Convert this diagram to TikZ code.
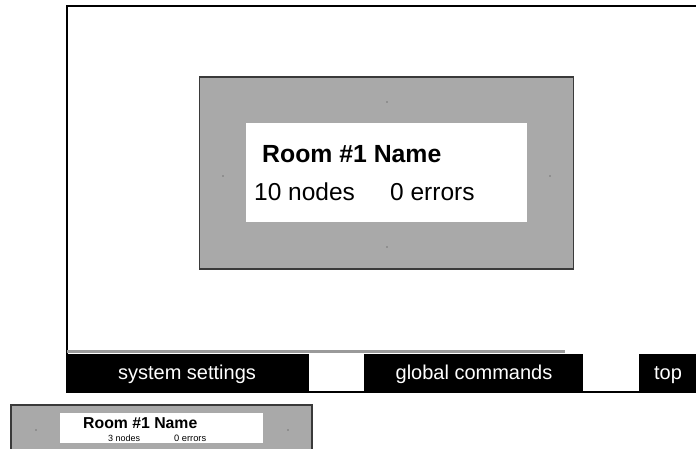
\documentclass[tikz,border=0pt]{standalone}
\usepackage{fontspec}
\setmainfont{Liberation Sans}
\definecolor{panelgray}{HTML}{A9A9A9}
\definecolor{edgegray}{HTML}{3A3A3A}
\definecolor{railgray}{HTML}{9A9A9A}
\begin{document}
\begin{tikzpicture}[x=1pt,y=-1pt,
  panel/.style={fill=panelgray,draw=edgegray,line width=1.6pt},
  card/.style={fill=white,draw=none},
  tab/.style={fill=black,draw=none},
  tablabel/.style={text=white,font=\fontsize{20}{24}\selectfont,anchor=base,inner sep=0pt},
  speck/.style={fill=edgegray,draw=none},
  txt/.style={anchor=base west,inner sep=0pt}
]
\useasboundingbox (0,0) rectangle (696,448);

% screen frame
\draw[line width=1.5pt] (696,6) -- (67,6) -- (67,392) -- (696,392);
\draw[railgray,line width=3pt] (67,351.5) -- (565,351.5);

% bottom tab bar
\fill[tab] (67,354) rectangle (309,392);
\fill[tab] (364,354) rectangle (583,392);
\fill[tab] (639,354) rectangle (696,392);
\node[tablabel] (sys) at (187,379) {system settings};
\node[tablabel] (glob) at (474,379) {global commands};
\node[tablabel] (top) at (668,379) {top};

% room panel
\draw[panel] (199.5,77.2) rectangle (573.3,269.2);
\fill[card] (246,123) rectangle (527,222);
\foreach \p in {(387,102),(223,176),(550,176),(387,247)}
  \fill[speck] \p circle (0.7);
\node[txt,font=\bfseries\fontsize{24.8}{28}\selectfont] (room) at (262,162) {Room \#1 Name};
\node[txt,font=\fontsize{24.5}{28}\selectfont] (nodes) at (254,200) {10 nodes};
\node[txt,font=\fontsize{24.5}{28}\selectfont] (errs) at (390,200) {0 errors};

% small room panel
\draw[panel,line width=1.3pt] (11,405) rectangle (312,452);
\fill[card] (60,413) rectangle (263,443);
\foreach \p in {(162,405.5),(36,430),(288,430)}
  \fill[speck] \p circle (0.6);
\node[txt,font=\bfseries\fontsize{15.8}{18}\selectfont] (sroom) at (83,428) {Room \#1 Name};
\node[txt,font=\fontsize{9}{10}\selectfont] (snodes) at (108,441) {3 nodes};
\node[txt,font=\fontsize{9.3}{10}\selectfont] (serrs) at (174,441) {0 errors};
\end{tikzpicture}
\end{document}
